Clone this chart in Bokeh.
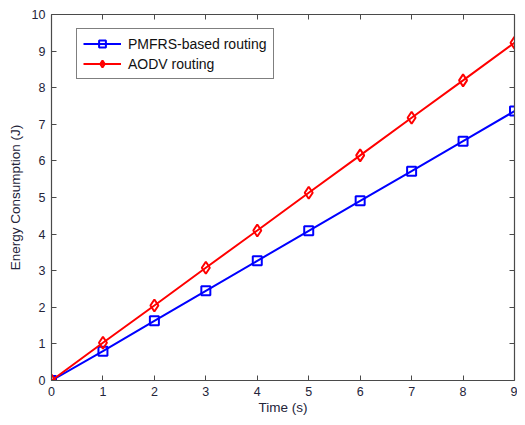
from bokeh.plotting import figure
from bokeh.models import LinearAxis, Legend, LegendItem, FixedTicker, Range1d
from bokeh.embed import file_html
from bokeh.resources import INLINE

time_s = [0, 1, 2, 3, 4, 5, 6, 7, 8, 9]
pmfrs = [0, 0.80, 1.63, 2.45, 3.27, 4.09, 4.91, 5.72, 6.54, 7.36]
aodv = [0, 1.03, 2.05, 3.08, 4.10, 5.13, 6.15, 7.18, 8.20, 9.23]
x_ticks = [0, 1, 2, 3, 4, 5, 6, 7, 8, 9]
y_ticks = [0, 1, 2, 3, 4, 5, 6, 7, 8, 9, 10]

FONT = "Liberation Sans"
AX = "#4a4a4a"
TXT = "#24243a"

p = figure(width=517, height=417, output_backend="svg", toolbar_location=None,
           x_range=Range1d(0, 9), y_range=Range1d(0, 10),
           min_border_left=51, min_border_right=3, min_border_top=14, min_border_bottom=37,
           background_fill_color="white", border_fill_color="white")
p.outline_line_color = None
p.grid.visible = False

def style_axis(ax, ticks, labels=True):
    ax.ticker = FixedTicker(ticks=ticks)
    ax.axis_line_color = AX
    ax.axis_line_width = 1.2
    ax.major_tick_line_color = AX
    ax.major_tick_in = 5
    ax.major_tick_out = 0
    ax.minor_tick_line_color = None
    ax.major_label_text_font = FONT
    ax.major_label_text_font_size = "12.5px"
    ax.major_label_text_color = TXT
    ax.axis_label_text_font = FONT
    ax.axis_label_text_font_size = "13.5px"
    ax.axis_label_text_font_style = "normal"
    ax.axis_label_text_color = TXT
    if not labels:
        ax.major_label_text_font_size = "0px"
        ax.major_label_text_alpha = 0

style_axis(p.xaxis[0], x_ticks)
style_axis(p.yaxis[0], y_ticks)
p.xaxis[0].axis_label = "Time (s)"
p.yaxis[0].axis_label = "Energy Consumption (J)"
p.xaxis[0].major_label_standoff = 6
p.yaxis[0].major_label_standoff = 6
p.xaxis[0].axis_label_standoff = 1
p.yaxis[0].axis_label_standoff = 6

top = LinearAxis()
style_axis(top, x_ticks, labels=False)
right = LinearAxis()
style_axis(right, y_ticks, labels=False)
p.add_layout(top, "above")
p.add_layout(right, "right")

bl = p.line(time_s, pmfrs, line_color="#0000ff", line_width=2)
bm = p.scatter(time_s, pmfrs, marker="square", size=9, line_color="#0000ff",
               line_width=2, fill_alpha=0)
rl = p.line(time_s, aodv, line_color="#ff0000", line_width=2)
rm = p.scatter(time_s, aodv, marker="diamond", size=12, line_color="#ff0000",
               line_width=2, fill_alpha=0)

legend = Legend(items=[LegendItem(label="PMFRS-based routing", renderers=[bl, bm]),
                       LegendItem(label="AODV routing", renderers=[rl, rm])],
                location=(25, 301))
legend.label_text_font = FONT
legend.label_text_font_size = "14px"
legend.label_text_color = "#111111"
legend.border_line_color = "black"
legend.border_line_width = 1.2
legend.background_fill_color = "white"
legend.background_fill_alpha = 1
legend.glyph_width = 38
legend.glyph_height = 17
legend.label_height = 17
legend.label_standoff = 7
legend.spacing = 3
legend.padding = 6
legend.margin = 0
p.add_layout(legend)

open("out.html", "w").write(file_html(p, INLINE))
